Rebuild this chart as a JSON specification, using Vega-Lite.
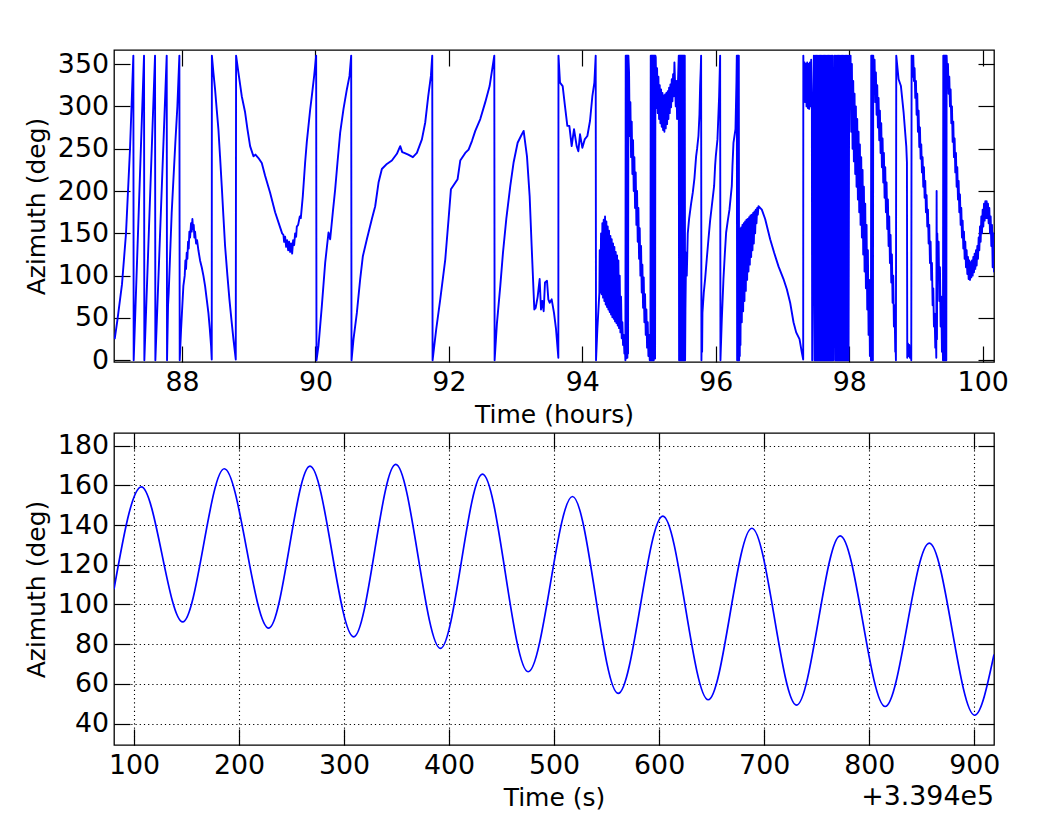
{
"$schema": "https://vega.github.io/schema/vega-lite/v6.json",
"padding": {"left": 24, "top": 48, "right": 10, "bottom": 10},
"config": {
  "view": {"stroke": "black", "strokeWidth": 1.3},
  "font": "DejaVu Sans",
  "axis": {"labelFont": "DejaVu Sans", "labelFontSize": 26.8, "labelColor": "black", "titleFont": "DejaVu Sans", "titleFontSize": 25, "titleFontWeight": "normal", "titleColor": "black", "tickColor": "black", "tickWidth": 1.2, "tickSize": -16, "domain": false, "labelFlush": false, "labelOverlap": false, "grid": false}
},
"datasets": {
"track": [
{"t":86.99,"az":25},{"t":87.03,"az":47},{"t":87.10,"az":90},{"t":87.16,"az":150},{"t":87.22,"az":250},{"t":87.27,"az":360},{"t":87.275,"az":0},{"t":87.43,"az":360},{"t":87.435,"az":0},{"t":87.595,"az":360},{"t":87.60,"az":0},{"t":87.77,"az":360},{"t":87.775,"az":0},{"t":87.79,"az":65},{"t":87.80,"az":80},{"t":87.845,"az":175},{"t":87.90,"az":258},{"t":87.93,"az":300},{"t":87.96,"az":360},{"t":87.965,"az":0},{"t":87.985,"az":36},{"t":88.02,"az":88},{"t":88.04,"az":100},{"t":88.05,"az":118},{"t":88.06,"az":108},{"t":88.07,"az":127},{"t":88.08,"az":120},{"t":88.09,"az":140},{"t":88.10,"az":132},{"t":88.11,"az":152},{"t":88.12,"az":145},{"t":88.135,"az":162},{"t":88.145,"az":152},{"t":88.155,"az":167},{"t":88.165,"az":155},{"t":88.175,"az":160},{"t":88.185,"az":145},{"t":88.195,"az":152},{"t":88.21,"az":138},{"t":88.225,"az":142},{"t":88.245,"az":130},{"t":88.27,"az":118},{"t":88.295,"az":110},{"t":88.32,"az":100},{"t":88.345,"az":88},{"t":88.37,"az":72},{"t":88.395,"az":56},{"t":88.415,"az":38},{"t":88.435,"az":17},{"t":88.445,"az":1},{"t":88.447,"az":360},{"t":88.47,"az":340},{"t":88.495,"az":320},{"t":88.52,"az":296},{"t":88.545,"az":273},{"t":88.57,"az":240},{"t":88.595,"az":206},{"t":88.62,"az":170},{"t":88.645,"az":135},{"t":88.68,"az":100},{"t":88.71,"az":72},{"t":88.74,"az":48},{"t":88.77,"az":25},{"t":88.805,"az":1},{"t":88.81,"az":360},{"t":88.845,"az":340},{"t":88.895,"az":312},{"t":88.945,"az":293},{"t":88.98,"az":273},{"t":89.02,"az":253},{"t":89.07,"az":241},{"t":89.10,"az":243},{"t":89.145,"az":239},{"t":89.195,"az":233},{"t":89.245,"az":218},{"t":89.32,"az":198},{"t":89.395,"az":175},{"t":89.47,"az":157},{"t":89.50,"az":150},{"t":89.52,"az":148},{"t":89.53,"az":140},{"t":89.545,"az":146},{"t":89.56,"az":134},{"t":89.575,"az":142},{"t":89.59,"az":130},{"t":89.605,"az":140},{"t":89.62,"az":128},{"t":89.635,"az":138},{"t":89.65,"az":126},{"t":89.665,"az":142},{"t":89.68,"az":136},{"t":89.695,"az":150},{"t":89.71,"az":146},{"t":89.72,"az":158},{"t":89.74,"az":160},{"t":89.765,"az":170},{"t":89.78,"az":168},{"t":89.81,"az":194},{"t":89.845,"az":234},{"t":89.87,"az":258},{"t":89.895,"az":277},{"t":89.92,"az":296},{"t":89.945,"az":312},{"t":89.98,"az":336},{"t":90.01,"az":360},{"t":90.015,"az":0},{"t":90.045,"az":17},{"t":90.095,"az":64},{"t":90.145,"az":115},{"t":90.195,"az":151},{"t":90.22,"az":143},{"t":90.26,"az":175},{"t":90.295,"az":202},{"t":90.33,"az":234},{"t":90.37,"az":269},{"t":90.42,"az":297},{"t":90.47,"az":320},{"t":90.51,"az":336},{"t":90.535,"az":360},{"t":90.54,"az":0},{"t":90.57,"az":25},{"t":90.62,"az":56},{"t":90.67,"az":96},{"t":90.71,"az":123},{"t":90.77,"az":143},{"t":90.845,"az":167},{"t":90.895,"az":182},{"t":90.945,"az":210},{"t":90.995,"az":226},{"t":91.07,"az":232},{"t":91.145,"az":236},{"t":91.22,"az":244},{"t":91.27,"az":253},{"t":91.30,"az":246},{"t":91.33,"az":245},{"t":91.39,"az":243},{"t":91.46,"az":240},{"t":91.52,"az":245},{"t":91.595,"az":261},{"t":91.645,"az":281},{"t":91.69,"az":312},{"t":91.73,"az":336},{"t":91.75,"az":360},{"t":91.755,"az":0},{"t":91.81,"az":37},{"t":91.87,"az":72},{"t":91.945,"az":119},{"t":91.995,"az":167},{"t":92.03,"az":202},{"t":92.08,"az":208},{"t":92.13,"az":214},{"t":92.17,"az":236},{"t":92.245,"az":245},{"t":92.295,"az":249},{"t":92.345,"az":259},{"t":92.395,"az":271},{"t":92.47,"az":285},{"t":92.545,"az":305},{"t":92.61,"az":324},{"t":92.68,"az":360},{"t":92.685,"az":0},{"t":92.72,"az":44},{"t":92.77,"az":88},{"t":92.81,"az":127},{"t":92.86,"az":167},{"t":92.92,"az":206},{"t":92.97,"az":234},{"t":93.03,"az":257},{"t":93.08,"az":265},{"t":93.12,"az":271},{"t":93.17,"az":241},{"t":93.21,"az":194},{"t":93.24,"az":135},{"t":93.28,"az":60},{"t":93.30,"az":62},{"t":93.33,"az":75},{"t":93.36,"az":96},{"t":93.38,"az":60},{"t":93.40,"az":70},{"t":93.42,"az":58},{"t":93.44,"az":92},{"t":93.47,"az":94},{"t":93.49,"az":72},{"t":93.51,"az":68},{"t":93.54,"az":72},{"t":93.575,"az":56},{"t":93.605,"az":37},{"t":93.64,"az":3},{"t":93.642,"az":360},{"t":93.665,"az":328},{"t":93.705,"az":324},{"t":93.74,"az":300},{"t":93.775,"az":277},{"t":93.805,"az":277},{"t":93.84,"az":253},{"t":93.875,"az":273},{"t":93.915,"az":253},{"t":93.94,"az":247},{"t":93.965,"az":267},{"t":94.00,"az":251},{"t":94.035,"az":261},{"t":94.075,"az":265},{"t":94.115,"az":283},{"t":94.15,"az":312},{"t":94.18,"az":328},{"t":94.20,"az":360},{"t":94.205,"az":0},{"t":94.225,"az":37},{"t":94.255,"az":80},
{"t":94.26,"az":130},{"t":94.27,"az":80},{"t":94.28,"az":150},{"t":94.29,"az":78},{"t":94.30,"az":162},{"t":94.31,"az":74},{"t":94.32,"az":166},{"t":94.33,"az":70},{"t":94.34,"az":170},{"t":94.35,"az":66},{"t":94.36,"az":164},{"t":94.37,"az":63},{"t":94.38,"az":158},{"t":94.39,"az":60},{"t":94.40,"az":153},{"t":94.41,"az":57},{"t":94.42,"az":147},{"t":94.43,"az":54},{"t":94.44,"az":143},{"t":94.45,"az":51},{"t":94.46,"az":138},{"t":94.47,"az":49},{"t":94.48,"az":134},{"t":94.49,"az":46},{"t":94.50,"az":128},{"t":94.51,"az":44},{"t":94.52,"az":124},{"t":94.53,"az":41},{"t":94.54,"az":118},{"t":94.55,"az":38},{"t":94.56,"az":100},{"t":94.57,"az":33},{"t":94.58,"az":75},{"t":94.59,"az":26},{"t":94.60,"az":45},{"t":94.61,"az":18},{"t":94.62,"az":30},{"t":94.63,"az":8},{"t":94.64,"az":12},{"t":94.645,"az":0},
{"t":94.65,"az":360},{"t":94.655,"az":2},{"t":94.66,"az":360},{"t":94.665,"az":5},{"t":94.67,"az":360},{"t":94.675,"az":3},{"t":94.68,"az":360},{"t":94.685,"az":8},{"t":94.69,"az":360},
{"t":94.70,"az":340},{"t":94.71,"az":265},{"t":94.72,"az":305},{"t":94.73,"az":240},{"t":94.74,"az":282},{"t":94.75,"az":220},{"t":94.76,"az":260},{"t":94.77,"az":200},{"t":94.78,"az":240},{"t":94.79,"az":180},{"t":94.80,"az":222},{"t":94.81,"az":160},{"t":94.82,"az":200},{"t":94.83,"az":140},{"t":94.84,"az":180},{"t":94.85,"az":120},{"t":94.86,"az":156},{"t":94.87,"az":100},{"t":94.88,"az":135},{"t":94.89,"az":80},{"t":94.90,"az":113},{"t":94.91,"az":62},{"t":94.92,"az":98},{"t":94.93,"az":45},{"t":94.94,"az":78},{"t":94.95,"az":30},{"t":94.96,"az":60},{"t":94.97,"az":15},{"t":94.98,"az":45},{"t":94.99,"az":5},{"t":95.00,"az":30},{"t":95.01,"az":0},{"t":95.015,"az":20},{"t":95.02,"az":0},
{"t":95.025,"az":360},{"t":95.03,"az":0},{"t":95.035,"az":360},{"t":95.04,"az":3},{"t":95.045,"az":360},{"t":95.05,"az":0},{"t":95.055,"az":360},{"t":95.06,"az":5},{"t":95.065,"az":360},{"t":95.07,"az":0},{"t":95.075,"az":360},{"t":95.08,"az":8},{"t":95.085,"az":360},{"t":95.09,"az":2},{"t":95.095,"az":360},
{"t":95.10,"az":358},{"t":95.11,"az":298},{"t":95.12,"az":345},{"t":95.13,"az":292},{"t":95.14,"az":335},{"t":95.15,"az":285},{"t":95.16,"az":325},{"t":95.17,"az":280},{"t":95.18,"az":320},{"t":95.19,"az":276},{"t":95.20,"az":316},{"t":95.21,"az":272},{"t":95.22,"az":313},{"t":95.23,"az":270},{"t":95.24,"az":314},{"t":95.25,"az":274},{"t":95.26,"az":316},{"t":95.27,"az":279},{"t":95.28,"az":318},{"t":95.29,"az":285},{"t":95.30,"az":322},{"t":95.31,"az":292},{"t":95.32,"az":326},{"t":95.33,"az":299},{"t":95.34,"az":332},{"t":95.35,"az":306},{"t":95.36,"az":338},{"t":95.37,"az":312},{"t":95.38,"az":352},{"t":95.40,"az":300},{"t":95.41,"az":330},{"t":95.42,"az":285},{"t":95.43,"az":320},
{"t":95.445,"az":360},{"t":95.45,"az":0},{"t":95.455,"az":360},{"t":95.46,"az":0},{"t":95.465,"az":360},{"t":95.47,"az":0},{"t":95.475,"az":360},{"t":95.48,"az":0},{"t":95.485,"az":360},{"t":95.49,"az":0},{"t":95.495,"az":360},{"t":95.50,"az":0},{"t":95.505,"az":360},{"t":95.51,"az":0},{"t":95.515,"az":360},{"t":95.52,"az":0},{"t":95.525,"az":360},{"t":95.53,"az":0},{"t":95.535,"az":360},{"t":95.54,"az":0},
{"t":95.545,"az":60},{"t":95.555,"az":127},{"t":95.565,"az":100},{"t":95.58,"az":150},{"t":95.60,"az":167},{"t":95.63,"az":185},{"t":95.655,"az":198},{"t":95.68,"az":215},{"t":95.705,"az":241},{"t":95.72,"az":250},{"t":95.74,"az":265},{"t":95.755,"az":290},{"t":95.765,"az":324},{"t":95.775,"az":345},{"t":95.78,"az":360},{"t":95.785,"az":0},{"t":95.79,"az":40},{"t":95.795,"az":10},{"t":95.80,"az":56},{"t":95.82,"az":80},{"t":95.84,"az":96},{"t":95.865,"az":120},{"t":95.89,"az":143},{"t":95.915,"az":165},{"t":95.94,"az":182},{"t":95.975,"az":206},{"t":95.99,"az":230},{"t":96.00,"az":241},{"t":96.025,"az":261},{"t":96.05,"az":312},{"t":96.065,"az":360},{"t":96.07,"az":0},{"t":96.09,"az":48},{"t":96.115,"az":96},{"t":96.135,"az":125},{"t":96.155,"az":151},{"t":96.18,"az":165},{"t":96.205,"az":178},{"t":96.24,"az":206},{"t":96.25,"az":230},{"t":96.265,"az":257},{"t":96.295,"az":273},{"t":96.31,"az":330},{"t":96.315,"az":360},{"t":96.32,"az":0},{"t":96.325,"az":360},{"t":96.33,"az":0},{"t":96.335,"az":360},{"t":96.34,"az":0},{"t":96.345,"az":360},{"t":96.35,"az":0},
{"t":96.355,"az":150},{"t":96.36,"az":5},{"t":96.365,"az":155},{"t":96.37,"az":18},{"t":96.38,"az":157},{"t":96.39,"az":45},{"t":96.40,"az":160},{"t":96.41,"az":58},{"t":96.42,"az":162},{"t":96.43,"az":70},{"t":96.44,"az":164},{"t":96.45,"az":82},{"t":96.46,"az":166},{"t":96.47,"az":95},{"t":96.48,"az":167},{"t":96.49,"az":105},{"t":96.50,"az":169},{"t":96.51,"az":113},{"t":96.52,"az":171},{"t":96.53,"az":122},{"t":96.54,"az":172},{"t":96.55,"az":130},{"t":96.56,"az":174},{"t":96.57,"az":138},{"t":96.58,"az":176},{"t":96.59,"az":150},{"t":96.60,"az":178},{"t":96.61,"az":162},{"t":96.62,"az":180},{"t":96.63,"az":172},{"t":96.64,"az":182},
{"t":96.69,"az":178},{"t":96.74,"az":167},{"t":96.79,"az":151},{"t":96.815,"az":143},{"t":96.875,"az":127},{"t":96.94,"az":111},{"t":97.015,"az":96},{"t":97.065,"az":84},{"t":97.115,"az":68},{"t":97.165,"az":45},{"t":97.205,"az":33},{"t":97.255,"az":25},{"t":97.29,"az":9},{"t":97.31,"az":1},{"t":97.312,"az":360},
{"t":97.32,"az":310},{"t":97.33,"az":352},{"t":97.34,"az":305},{"t":97.35,"az":350},{"t":97.36,"az":300},{"t":97.37,"az":352},{"t":97.38,"az":298},{"t":97.39,"az":350},{"t":97.40,"az":297},{"t":97.41,"az":352},{"t":97.42,"az":300},{"t":97.43,"az":355},{"t":97.44,"az":310},{"t":97.445,"az":0},
{"t":97.47,"az":360},{"t":97.48,"az":0},{"t":97.49,"az":360},{"t":97.50,"az":0},{"t":97.51,"az":360},{"t":97.52,"az":0},{"t":97.53,"az":360},{"t":97.54,"az":0},{"t":97.55,"az":360},{"t":97.56,"az":0},{"t":97.57,"az":360},{"t":97.58,"az":0},{"t":97.59,"az":360},{"t":97.60,"az":0},{"t":97.61,"az":360},{"t":97.62,"az":0},{"t":97.63,"az":360},{"t":97.64,"az":0},{"t":97.65,"az":360},{"t":97.66,"az":0},{"t":97.67,"az":360},{"t":97.68,"az":0},{"t":97.69,"az":360},{"t":97.70,"az":0},{"t":97.71,"az":360},{"t":97.72,"az":0},{"t":97.73,"az":360},{"t":97.74,"az":0},{"t":97.75,"az":360},{"t":97.76,"az":0},{"t":97.78,"az":360},{"t":97.79,"az":0},{"t":97.80,"az":360},{"t":97.81,"az":0},{"t":97.82,"az":360},{"t":97.83,"az":0},{"t":97.84,"az":360},{"t":97.85,"az":0},{"t":97.86,"az":360},{"t":97.87,"az":0},{"t":97.88,"az":360},{"t":97.89,"az":0},{"t":97.90,"az":360},{"t":97.91,"az":0},{"t":97.92,"az":360},{"t":97.93,"az":0},{"t":97.94,"az":360},{"t":97.95,"az":0},{"t":97.96,"az":360},{"t":97.97,"az":0},{"t":97.98,"az":360},{"t":97.99,"az":0},{"t":98.00,"az":360},
{"t":98.01,"az":300},{"t":98.02,"az":360},{"t":98.03,"az":270},{"t":98.04,"az":350},{"t":98.05,"az":250},{"t":98.06,"az":330},{"t":98.07,"az":235},{"t":98.08,"az":315},{"t":98.09,"az":220},{"t":98.10,"az":300},{"t":98.11,"az":205},{"t":98.12,"az":285},{"t":98.13,"az":190},{"t":98.14,"az":270},{"t":98.15,"az":175},{"t":98.16,"az":255},{"t":98.17,"az":160},{"t":98.18,"az":240},{"t":98.19,"az":145},{"t":98.20,"az":225},{"t":98.21,"az":125},{"t":98.22,"az":205},{"t":98.23,"az":105},{"t":98.24,"az":185},{"t":98.25,"az":85},{"t":98.26,"az":160},{"t":98.27,"az":60},{"t":98.28,"az":130},{"t":98.29,"az":30},{"t":98.30,"az":95},{"t":98.31,"az":5},{"t":98.32,"az":60},{"t":98.325,"az":0},{"t":98.33,"az":360},{"t":98.335,"az":0},{"t":98.34,"az":360},{"t":98.345,"az":10},{"t":98.35,"az":360},{"t":98.355,"az":0},{"t":98.36,"az":360},
{"t":98.37,"az":330},{"t":98.38,"az":355},{"t":98.39,"az":305},{"t":98.40,"az":340},{"t":98.41,"az":290},{"t":98.42,"az":325},{"t":98.43,"az":275},{"t":98.44,"az":310},{"t":98.45,"az":260},{"t":98.46,"az":295},{"t":98.47,"az":245},{"t":98.48,"az":280},{"t":98.49,"az":228},{"t":98.50,"az":262},{"t":98.51,"az":210},{"t":98.52,"az":245},{"t":98.53,"az":192},{"t":98.54,"az":228},{"t":98.55,"az":175},{"t":98.56,"az":210},{"t":98.57,"az":155},{"t":98.58,"az":190},{"t":98.59,"az":135},{"t":98.60,"az":170},{"t":98.61,"az":115},{"t":98.62,"az":148},{"t":98.63,"az":92},{"t":98.64,"az":125},{"t":98.65,"az":68},{"t":98.66,"az":100},{"t":98.67,"az":40},{"t":98.68,"az":65},{"t":98.69,"az":10},{"t":98.695,"az":20},{"t":98.70,"az":0},{"t":98.705,"az":360},{"t":98.74,"az":332},{"t":98.775,"az":324},{"t":98.815,"az":293},{"t":98.855,"az":253},{"t":98.865,"az":234},{"t":98.87,"az":3},{"t":98.88,"az":20},{"t":98.89,"az":5},{"t":98.90,"az":18},{"t":98.91,"az":3},{"t":98.92,"az":15},{"t":98.93,"az":0},{"t":98.935,"az":360},
{"t":98.94,"az":360},{"t":98.95,"az":335},{"t":98.96,"az":360},{"t":98.97,"az":330},{"t":98.98,"az":345},{"t":98.99,"az":310},{"t":99.00,"az":330},{"t":99.01,"az":290},{"t":99.02,"az":315},{"t":99.03,"az":270},{"t":99.04,"az":295},{"t":99.05,"az":252},{"t":99.06,"az":275},{"t":99.07,"az":238},{"t":99.08,"az":255},{"t":99.09,"az":222},{"t":99.10,"az":240},{"t":99.11,"az":205},{"t":99.12,"az":228},{"t":99.13,"az":192},{"t":99.14,"az":212},{"t":99.15,"az":175},{"t":99.16,"az":195},{"t":99.17,"az":158},{"t":99.18,"az":178},{"t":99.19,"az":138},{"t":99.20,"az":160},{"t":99.21,"az":115},{"t":99.22,"az":140},{"t":99.23,"az":95},{"t":99.24,"az":115},{"t":99.25,"az":65},{"t":99.26,"az":85},{"t":99.27,"az":40},{"t":99.28,"az":55},{"t":99.29,"az":15},{"t":99.30,"az":25},{"t":99.305,"az":3},
{"t":99.31,"az":200},{"t":99.315,"az":25},{"t":99.32,"az":150},{"t":99.33,"az":100},{"t":99.34,"az":140},{"t":99.35,"az":70},{"t":99.36,"az":110},{"t":99.37,"az":40},{"t":99.38,"az":75},{"t":99.39,"az":10},{"t":99.40,"az":40},{"t":99.405,"az":0},{"t":99.41,"az":360},{"t":99.415,"az":0},{"t":99.42,"az":360},{"t":99.425,"az":5},{"t":99.43,"az":360},{"t":99.435,"az":0},{"t":99.44,"az":360},{"t":99.445,"az":10},{"t":99.45,"az":360},{"t":99.455,"az":0},{"t":99.46,"az":360},
{"t":99.47,"az":335},{"t":99.48,"az":350},{"t":99.49,"az":315},{"t":99.50,"az":335},{"t":99.51,"az":300},{"t":99.52,"az":320},{"t":99.53,"az":280},{"t":99.54,"az":300},{"t":99.55,"az":258},{"t":99.56,"az":282},{"t":99.57,"az":240},{"t":99.58,"az":262},{"t":99.59,"az":222},{"t":99.60,"az":245},{"t":99.61,"az":205},{"t":99.62,"az":228},{"t":99.63,"az":190},{"t":99.64,"az":212},{"t":99.65,"az":175},{"t":99.66,"az":196},{"t":99.67,"az":160},{"t":99.68,"az":180},{"t":99.69,"az":145},{"t":99.70,"az":165},{"t":99.71,"az":132},{"t":99.72,"az":152},{"t":99.73,"az":120},{"t":99.74,"az":140},{"t":99.75,"az":110},{"t":99.76,"az":130},{"t":99.77,"az":102},{"t":99.78,"az":122},{"t":99.79,"az":96},{"t":99.80,"az":118},{"t":99.81,"az":95},{"t":99.82,"az":116},{"t":99.83,"az":98},{"t":99.84,"az":118},{"t":99.85,"az":100},{"t":99.86,"az":122},{"t":99.87,"az":104},{"t":99.88,"az":126},{"t":99.89,"az":108},{"t":99.90,"az":130},{"t":99.91,"az":112},{"t":99.92,"az":135},{"t":99.93,"az":120},{"t":99.94,"az":145},{"t":99.95,"az":130},{"t":99.96,"az":158},{"t":99.97,"az":140},{"t":99.98,"az":170},{"t":99.99,"az":150},{"t":100.00,"az":178},{"t":100.01,"az":158},{"t":100.02,"az":185},{"t":100.03,"az":165},{"t":100.04,"az":188},{"t":100.05,"az":168},{"t":100.06,"az":188},{"t":100.07,"az":168},{"t":100.08,"az":185},{"t":100.09,"az":162},{"t":100.10,"az":180},{"t":100.11,"az":150},{"t":100.12,"az":170},{"t":100.13,"az":135},{"t":100.14,"az":160},{"t":100.15,"az":110},{"t":100.16,"az":150},{"t":100.17,"az":105},{"t":100.175,"az":120}
],
"zoom": [
{"s":81,"az":107.7},{"s":107,"az":159.3},{"s":146.4,"az":91.2},{"s":186,"az":168.4},{"s":228.3,"az":88.1},{"s":267.6,"az":169.7},{"s":309.2,"az":83.7},{"s":349.2,"az":170.6},{"s":391.8,"az":77.9},{"s":431.8,"az":165.7},{"s":475.3,"az":66.1},{"s":517.5,"az":154.4},{"s":561,"az":55.2},{"s":603.5,"az":144.5},{"s":646.7,"az":52},{"s":688.3,"az":138.4},{"s":730.8,"az":49.3},{"s":772.4,"az":134.6},{"s":815.2,"az":48.6},{"s":857.2,"az":130.9},{"s":900.4,"az":44.2},{"s":918.8,"az":74.8}
]
},
"spacing": 71,
"bounds": "flush",
"vconcat": [
{
  "width": 880, "height": 312,
  "layer": [
    {"data": {"name": "track"},
     "mark": {"type": "line", "color": "#0000ff", "strokeWidth": 1.9, "strokeJoin": "round", "clip": true},
     "encoding": {
       "x": {"field": "t", "type": "quantitative", "scale": {"domain": [86.98, 100.17], "nice": false, "zero": false},
             "axis": {"orient": "bottom", "values": [88,90,92,94,96,98,100], "format": "d", "title": "Time (hours)", "labelPadding": 23.5, "titlePadding": 6.5}},
       "y": {"field": "az", "type": "quantitative", "scale": {"domain": [-2, 366.6], "nice": false, "zero": false},
             "axis": {"orient": "left", "values": [0,50,100,150,200,250,300,350], "format": "d", "title": "Azimuth (deg)", "labelPadding": 21.5, "titlePadding": 7.5}}
     }},
    {"data": {"name": "track"},
     "mark": {"type": "line", "strokeOpacity": 0},
     "encoding": {
       "x": {"field": "t", "type": "quantitative", "scale": {"domain": [86.98, 100.17], "nice": false, "zero": false},
             "axis": {"orient": "top", "values": [88,90,92,94,96,98,100], "labels": false, "title": null}},
       "y": {"field": "az", "type": "quantitative", "scale": {"domain": [-2, 366.6], "nice": false, "zero": false},
             "axis": {"orient": "right", "values": [0,50,100,150,200,250,300,350], "labels": false, "title": null}}
     }}
  ],
  "resolve": {"axis": {"x": "independent", "y": "independent"}}
},
{
  "width": 880, "height": 312,
  "title": {"text": "+3.394e5", "orient": "bottom", "anchor": "end", "frame": "group", "offset": -27, "fontSize": 26.8, "fontWeight": "normal", "font": "DejaVu Sans", "color": "black", "baseline": "top"},
  "layer": [
    {"data": {"name": "zoom"},
     "mark": {"type": "line", "color": "#0000ff", "strokeWidth": 1.7, "interpolate": "monotone", "clip": true},
     "encoding": {
       "x": {"field": "s", "type": "quantitative", "scale": {"domain": [81, 918.8], "nice": false, "zero": false},
             "axis": {"orient": "bottom", "values": [100,200,300,400,500,600,700,800,900], "format": "d", "title": "Time (s)", "labelPadding": 23.5, "titlePadding": 6.5, "grid": true, "gridColor": "black", "gridDash": [1.2,3], "gridWidth": 1.1, "gridOpacity": 1}},
       "y": {"field": "az", "type": "quantitative", "scale": {"domain": [29.2, 186.4], "nice": false, "zero": false},
             "axis": {"orient": "left", "values": [40,60,80,100,120,140,160,180], "format": "d", "title": "Azimuth (deg)", "labelPadding": 21.5, "titlePadding": 7.5, "grid": true, "gridColor": "black", "gridDash": [1.2,3], "gridWidth": 1.1, "gridOpacity": 1}}
     }},
    {"data": {"name": "zoom"},
     "mark": {"type": "line", "strokeOpacity": 0},
     "encoding": {
       "x": {"field": "s", "type": "quantitative", "scale": {"domain": [81, 918.8], "nice": false, "zero": false},
             "axis": {"orient": "top", "values": [100,200,300,400,500,600,700,800,900], "labels": false, "title": null}},
       "y": {"field": "az", "type": "quantitative", "scale": {"domain": [29.2, 186.4], "nice": false, "zero": false},
             "axis": {"orient": "right", "values": [40,60,80,100,120,140,160,180], "labels": false, "title": null}}
     }}
  ],
  "resolve": {"axis": {"x": "independent", "y": "independent"}}
}
]
}
